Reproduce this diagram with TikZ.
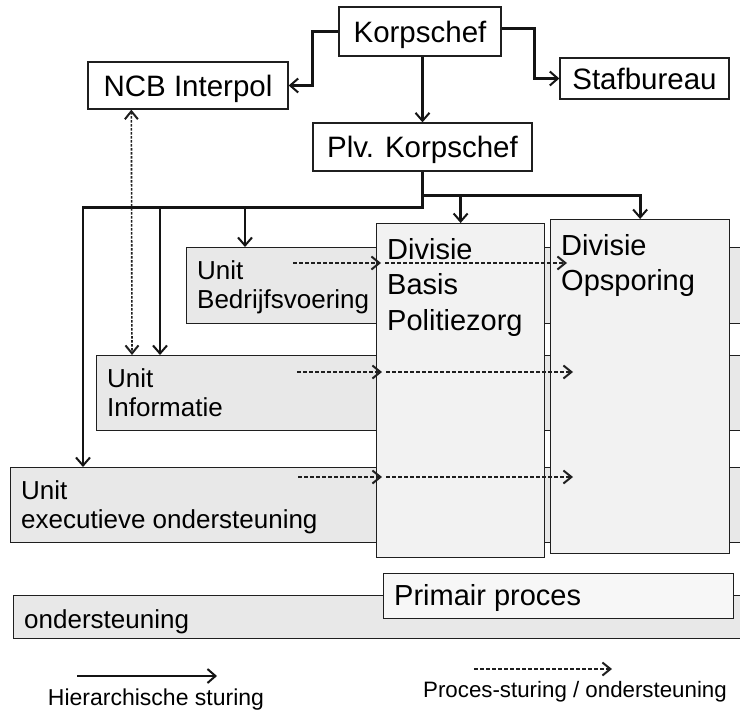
\documentclass[tikz,border=0pt]{standalone}
\usepackage{fontspec}
\setmainfont{Liberation Sans}
\usetikzlibrary{arrows.meta}
\definecolor{edge}{gray}{0.12}
\definecolor{unitfill}{gray}{0.91}
\definecolor{divfill}{gray}{0.95}
\tikzset{
  boxline/.style={draw=edge, line width=1.3pt},
  topbox/.style={boxline, fill=white, inner sep=0pt, font=\fontsize{29.5}{35}\selectfont, text height=21pt, text depth=0pt},
  unitbox/.style={boxline, fill=unitfill, inner sep=0pt, anchor=north west},
  divbox/.style={boxline, fill=divfill, inner sep=0pt, anchor=north west},
  utext/.style={inner sep=0pt, anchor=north west, align=left, font=\fontsize{26}{29}\selectfont},
  dtext/.style={inner sep=0pt, anchor=north west, align=left, font=\fontsize{29}{35.5}\selectfont},
  hier/.style={draw=black!92, line width=2.8pt, -{Straight Barb[length=8pt,width=14pt,line width=2pt]}},
  proc/.style={draw=black!88, line width=1.4pt, dash pattern=on 4pt off 2pt, -{Straight Barb[length=8pt,width=13pt,line width=2pt]}},
  procboth/.style={draw=black!88, line width=1.6pt, dash pattern=on 2.5pt off 1.5pt, {Straight Barb[length=8pt,width=13pt,line width=2pt]}-{Straight Barb[length=8pt,width=13pt,line width=2pt]}},
  legtext/.style={inner sep=0pt, anchor=base},
}
\begin{document}
\begin{tikzpicture}[x=1pt,y=-1pt]
\useasboundingbox (0,0) rectangle (740,712);
\clip (0,0) rectangle (740,712);
\fill[white] (0,0) rectangle (740,712);

% top boxes
\node[topbox, minimum width=162pt, minimum height=49pt] (korps) at (420,31.5) {Korpschef};
\node[topbox, minimum width=169pt, minimum height=41pt] (staf) at (644.5,78.5) {Stafbureau};
\node[topbox, minimum width=200pt, minimum height=47pt] (ncb) at (188,85.5) {NCB Interpol};
\node[topbox, minimum width=219pt, minimum height=48pt] (plv) at (422.5,147) {Plv. Korpschef};

% bottom band
\node[unitbox, minimum width=760pt, minimum height=43pt] (onder) at (13,595) {};
\node[utext] (onderT) at ([shift={(11pt,-14pt)}]onder.north west) {ondersteuning};
\node[divbox, fill=white!97!black, minimum width=350pt, minimum height=45pt] (prim) at (383,573) {};
\node[dtext] (primT) at ([shift={(11pt,-11pt)}]prim.north west) {Primair proces};

% units (extend behind divisions)
\node[unitbox, minimum width=750pt, minimum height=75pt] (exec) at (10,467) {};
\node[utext] (execT) at ([shift={(11pt,-13.4pt)}]exec.north west) {Unit\\executieve ondersteuning};
\node[unitbox, minimum width=664pt, minimum height=75pt] (info) at (96,355) {};
\node[utext] (infoT) at ([shift={(11pt,-13.4pt)}]info.north west) {Unit\\Informatie};
\node[unitbox, minimum width=574pt, minimum height=76pt] (bedr) at (186,247) {};
\node[utext] (bedrT) at ([shift={(11pt,-13.4pt)}]bedr.north west) {Unit\\Bedrijfsvoering};

% divisions
\node[divbox, minimum width=168pt, minimum height=334pt] (basis) at (376,223) {};
\node[dtext] (basisT) at ([shift={(11pt,-15.2pt)}]basis.north west) {Divisie\\Basis\\Politiezorg};
\node[divbox, minimum width=179pt, minimum height=334pt] (opsp) at (550,219) {};
\node[dtext] (opspT) at ([shift={(11pt,-15.2pt)}]opsp.north west) {Divisie\\Opsporing};

% hierarchical connectors
\draw[hier] (korps.west) -- ++(-26,0) |- (ncb.east);
\draw[hier] ([yshift=3pt]korps.east) -- ++(33,0) |- (staf.west);
\draw[hier] (korps.south -| plv.north) -- (plv.north);
\draw[hier] (plv.south) -- ++(0,24) -| (opsp.north);
\draw[hier] ([yshift=-24pt]plv.south) -| (basis.north);
\draw[hier] (plv.south) -- ++(0,36) -| ([xshift=73pt]exec.north west);
\draw[hier] ([yshift=-36pt]plv.south) -| ([xshift=64pt]info.north west);
\draw[hier] ([yshift=-36pt]plv.south) -| ([xshift=59pt]bedr.north west);

% process connectors
\draw[procboth] ([xshift=44pt]ncb.south west) -- ([xshift=36pt]info.north west);
\coordinate (p1) at (293,263);
\coordinate (p2) at (297,372);
\coordinate (p3) at (298,477);
\draw[proc] (p1) -- ([xshift=5pt]p1 -| basis.west);
\draw[proc] ([xshift=9pt]p1 -| basis.west) -- ([xshift=17pt]p1 -| opsp.west);
\draw[proc] (p2) -- ([xshift=6pt]p2 -| basis.west);
\draw[proc] ([xshift=10pt]p2 -| basis.west) -- ([xshift=23pt]p2 -| opsp.west);
\draw[proc] (p3) -- ([xshift=6pt]p3 -| basis.west);
\draw[proc] ([xshift=10pt]p3 -| basis.west) -- ([xshift=23pt]p3 -| opsp.west);

% legend
\coordinate (lh1) at (77,676);
\coordinate (lh2) at (217,676);
\draw[hier, line width=2pt] (lh1) -- (lh2);
\node[legtext, font=\fontsize{23}{27}\selectfont] (legH) at (156,705) {Hierarchische sturing};
\coordinate (lp1) at (474,669);
\coordinate (lp2) at (612,669);
\draw[proc] (lp1) -- (lp2);
\node[legtext, font=\fontsize{22.3}{27}\selectfont] (legP) at (575,697) {Proces-sturing / ondersteuning};
\end{tikzpicture}
\end{document}
